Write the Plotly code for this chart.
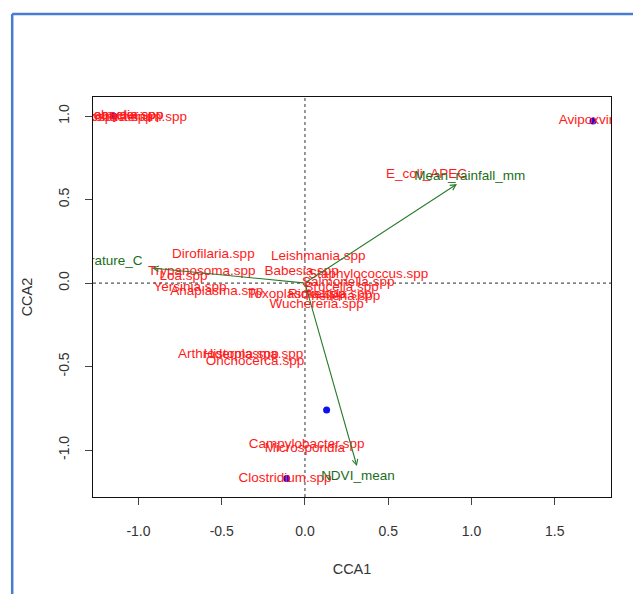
import plotly.graph_objects as go

# Species scores (CCA1, CCA2)
species = ["Helicobacter.spp", "Leptospira.spp", "Chlamydia.spp", "Mycobacterium.spp",
           "Avipoxvirus", "E_coli_APEC", "Leishmania.spp", "Dirofilaria.spp",
           "Trypanosoma.spp", "Loa.spp", "Yersinia.spp", "Anaplasma.spp",
           "Babesia.spp", "Staphylococcus.spp", "Salmonella.spp", "Brucella.spp",
           "Toxoplasma.spp", "Rickettsia.spp", "Theileria.spp", "Wuchereria.spp",
           "Arthroderma.spp", "Histoplasma.spp", "Onchocerca.spp",
           "Campylobacter.spp", "Microsporidia", "Clostridium.spp"]
sp_cca1 = [-1.15, -1.18, -1.12, -1.06,
           1.73, 0.73, 0.08, -0.55,
           -0.62, -0.73, -0.69, -0.53,
           -0.02, 0.38, 0.26, 0.22,
           -0.05, 0.15, 0.22, 0.07,
           -0.46, -0.31, -0.30,
           0.01, 0.00, -0.12]
sp_cca2 = [1.00, 0.99, 1.00, 0.99,
           0.97, 0.65, 0.16, 0.17,
           0.07, 0.04, -0.03, -0.05,
           0.07, 0.05, -0.00, -0.03,
           -0.07, -0.07, -0.08, -0.13,
           -0.43, -0.43, -0.47,
           -0.97, -0.99, -1.17]

# Site points
site_cca1 = [-1.15, 1.73, 0.13, -0.11]
site_cca2 = [1.00, 0.97, -0.76, -1.17]

# Environmental biplot arrows
env_names = ["Mean_rainfall_mm", "NDVI_mean", "Temperature_C"]
env_cca1 = [0.913, 0.312, -0.919]
env_cca2 = [0.593, -1.096, 0.090]
env_lab_cca1 = [0.99, 0.318, -1.255]
env_lab_cca2 = [0.64, -1.16, 0.126]

x_ticks = [-1.0, -0.5, 0.0, 0.5, 1.0, 1.5]
x_ticktext = ["-1.0", "-0.5", "0.0", "0.5", "1.0", "1.5"]
y_ticks = [-1.0, -0.5, 0.0, 0.5, 1.0]
y_ticktext = ["-1.0", "-0.5", "0.0", "0.5", "1.0"]

FONT = "Liberation Sans, Arial, sans-serif"
GREEN_LINE = "#2a7a2a"
GREEN_TEXT = "#1a6e1a"

fig = go.Figure()

fig.add_trace(go.Scatter(
    x=site_cca1, y=site_cca2, mode="markers",
    marker=dict(color="#1010ee", size=7, line=dict(width=0)),
    hoverinfo="skip", showlegend=False))

fig.add_trace(go.Scatter(
    x=sp_cca1, y=sp_cca2, mode="text", text=species,
    textposition="middle center",
    textfont=dict(color="#ff1a1a", size=13.5, family=FONT),
    cliponaxis=True, hoverinfo="skip", showlegend=False))

fig.add_trace(go.Scatter(
    x=env_lab_cca1, y=env_lab_cca2, mode="text", text=env_names,
    textposition="middle center",
    textfont=dict(color=GREEN_TEXT, size=13.5, family=FONT),
    cliponaxis=True, hoverinfo="skip", showlegend=False))

for ex, ey in zip(env_cca1, env_cca2):
    fig.add_annotation(x=ex, y=ey, ax=0, ay=0, xref="x", yref="y",
                       axref="x", ayref="y", showarrow=True, text="",
                       arrowhead=5, arrowsize=1.0, arrowwidth=1.1,
                       arrowcolor=GREEN_LINE)

# dotted reference lines
fig.add_shape(type="line", x0=0, x1=0, y0=0, y1=1, xref="x", yref="paper",
              line=dict(color="#555555", width=1.2, dash="dot"), layer="below")
fig.add_shape(type="line", x0=0, x1=1, y0=0, y1=0, xref="paper", yref="y",
              line=dict(color="#555555", width=1.2, dash="dot"), layer="below")

# blue window border (screenshot frame)
fig.add_shape(type="line", x0=-0.156, x1=-0.156, y0=-0.3, y1=1.2075,
              xref="paper", yref="paper", line=dict(color="#4a7bd4", width=2.5))
fig.add_shape(type="line", x0=-0.156, x1=1.2, y0=1.2075, y1=1.2075,
              xref="paper", yref="paper", line=dict(color="#4a7bd4", width=2.5))

axis_common = dict(showgrid=False, zeroline=False, showline=True, mirror=True,
                   linecolor="#111111", linewidth=1.2, ticks="outside", ticklen=7,
                   tickcolor="#444444", tickwidth=1.2,
                   tickfont=dict(family=FONT, size=14, color="#333333"),
                   title_font=dict(family=FONT, size=14.5, color="#333333"))

fig.update_xaxes(range=[-1.273, 1.838], tickvals=x_ticks, ticktext=x_ticktext,
                 ticklabelstandoff=14, title=dict(text="CCA1", standoff=25),
                 **axis_common)
fig.update_yaxes(range=[-1.281, 1.114], tickvals=y_ticks, ticktext=y_ticktext,
                 tickangle=-90, ticklabelstandoff=10,
                 title=dict(text="CCA2", standoff=20), **axis_common)

# page body has an 8px margin: shrink figure and margins to compensate
fig.update_layout(width=633, height=586,
                  margin=dict(l=85, r=30, t=89, b=97),
                  paper_bgcolor="white", plot_bgcolor="white",
                  font=dict(family=FONT), showlegend=False)

fig.write_html("out.html")
